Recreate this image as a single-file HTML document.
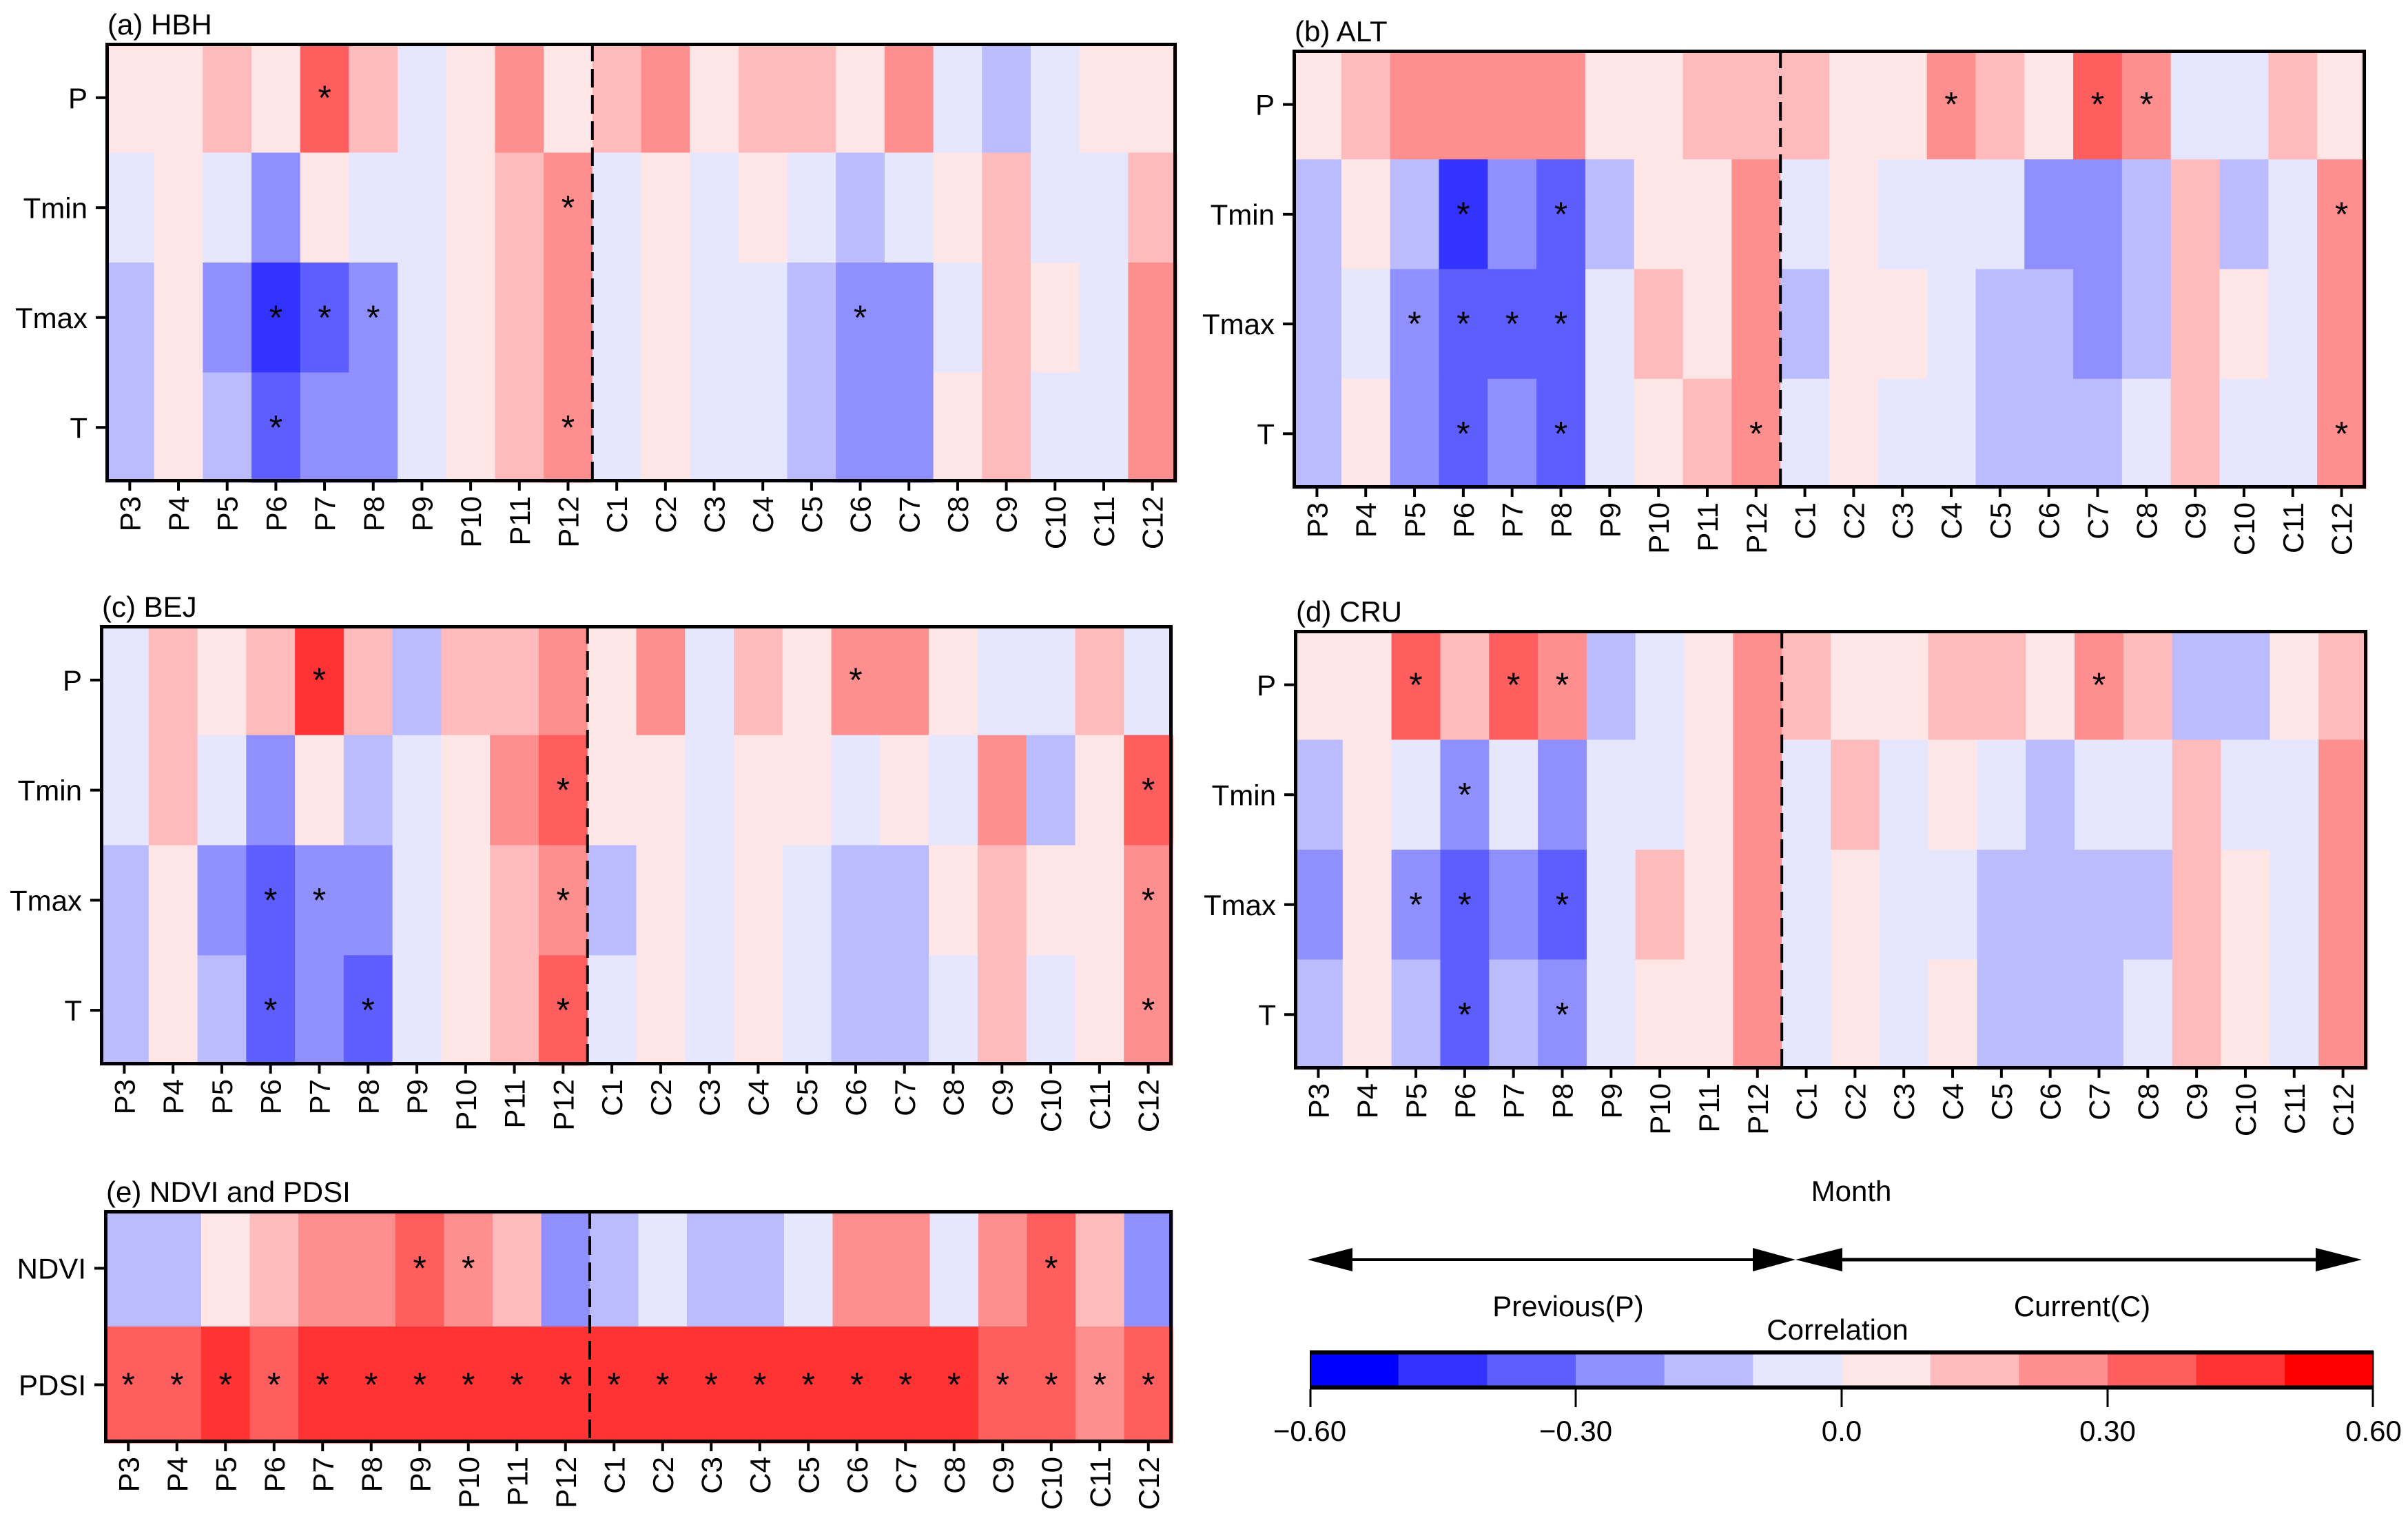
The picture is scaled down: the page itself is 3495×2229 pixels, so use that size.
<!DOCTYPE html>
<html><head><meta charset="utf-8"><style>
html,body{margin:0;padding:0;background:#fff;}
svg{display:block;}
text{font-family:"Liberation Sans",Arial,sans-serif;fill:#000;}
</style></head>
<body>
<svg id="fig" width="3495" height="2229" viewBox="0 0 3495 2229" xmlns="http://www.w3.org/2000/svg"></svg>
<script>
const months = ["P3","P4","P5","P6","P7","P8","P9","P10","P11","P12","C1","C2","C3","C4","C5","C6","C7","C8","C9","C10","C11","C12"];
const climRows = ["P","Tmin","Tmax","T"];
const eRows = ["NDVI","PDSI"];
const binColors = ["#0000ff","#3333ff","#5e5eff","#8f8fff","#bbbbff","#e6e6ff","#ffe6e6","#ffbbbb","#ff8f8f","#ff5e5e","#ff3333","#ff0000"];
const legendTicks = [-0.6,-0.3,0.0,0.3,0.6];
const legendTickLabels = ["\u22120.60","\u22120.30","0.0","0.30","0.60"];

// Panel (a) HBH
const hbhP    = [0.05,0.05,0.15,0.05,0.35,0.15,-0.05,0.05,0.25,0.05, 0.15,0.25,0.05,0.15,0.15,0.05,0.25,-0.05,-0.15,-0.05,0.05,0.05];
const hbhTmin = [-0.05,0.05,-0.05,-0.25,0.05,-0.05,-0.05,0.05,0.15,0.25, -0.05,0.05,-0.05,0.05,-0.05,-0.15,-0.05,0.05,0.15,-0.05,-0.05,0.15];
const hbhTmax = [-0.15,0.05,-0.25,-0.45,-0.35,-0.25,-0.05,0.05,0.15,0.25, -0.05,0.05,-0.05,-0.05,-0.15,-0.25,-0.25,-0.05,0.15,0.05,-0.05,0.25];
const hbhT    = [-0.15,0.05,-0.15,-0.35,-0.25,-0.25,-0.05,0.05,0.15,0.25, -0.05,0.05,-0.05,-0.05,-0.15,-0.25,-0.25,0.05,0.15,-0.05,-0.05,0.25];
const hbhSig  = [[4],[9],[3,4,5,15],[3,9]];

// Panel (b) ALT
const altP    = [0.05,0.15,0.25,0.25,0.25,0.25,0.05,0.05,0.15,0.15, 0.15,0.05,0.05,0.25,0.15,0.05,0.35,0.25,-0.05,-0.05,0.15,0.05];
const altTmin = [-0.15,0.05,-0.15,-0.45,-0.25,-0.35,-0.15,0.05,0.05,0.25, -0.05,0.05,-0.05,-0.05,-0.05,-0.25,-0.25,-0.15,0.15,-0.15,-0.05,0.25];
const altTmax = [-0.15,-0.05,-0.25,-0.35,-0.35,-0.35,-0.05,0.15,0.05,0.25, -0.15,0.05,0.05,-0.05,-0.15,-0.15,-0.25,-0.15,0.15,0.05,-0.05,0.25];
const altT    = [-0.15,0.05,-0.25,-0.35,-0.25,-0.35,-0.05,0.05,0.15,0.25, -0.05,0.05,-0.05,-0.05,-0.15,-0.15,-0.15,-0.05,0.15,-0.05,-0.05,0.25];
const altSig  = [[13,16,17],[3,5,21],[2,3,4,5],[3,5,9,21]];

// Panel (c) BEJ
const bejP    = [-0.05,0.15,0.05,0.15,0.45,0.15,-0.15,0.15,0.15,0.25, 0.05,0.25,-0.05,0.15,0.05,0.25,0.25,0.05,-0.05,-0.05,0.15,-0.05];
const bejTmin = [-0.05,0.15,-0.05,-0.25,0.05,-0.15,-0.05,0.05,0.25,0.35, 0.05,0.05,-0.05,0.05,0.05,-0.05,0.05,-0.05,0.25,-0.15,0.05,0.35];
const bejTmax = [-0.15,0.05,-0.25,-0.35,-0.25,-0.25,-0.05,0.05,0.15,0.25, -0.15,0.05,-0.05,0.05,-0.05,-0.15,-0.15,0.05,0.15,0.05,0.05,0.25];
const bejT    = [-0.15,0.05,-0.15,-0.35,-0.25,-0.35,-0.05,0.05,0.15,0.35, -0.05,0.05,-0.05,0.05,-0.05,-0.15,-0.15,-0.05,0.15,-0.05,0.05,0.25];
const bejSig  = [[4,15],[9,21],[3,4,9,21],[3,5,9,21]];

// Panel (d) CRU
const cruP    = [0.05,0.05,0.35,0.15,0.35,0.25,-0.15,-0.05,0.05,0.25, 0.15,0.05,0.05,0.15,0.15,0.05,0.25,0.15,-0.15,-0.15,0.05,0.15];
const cruTmin = [-0.15,0.05,-0.05,-0.25,-0.05,-0.25,-0.05,-0.05,0.05,0.25, -0.05,0.15,-0.05,0.05,-0.05,-0.15,-0.05,-0.05,0.15,-0.05,-0.05,0.25];
const cruTmax = [-0.25,0.05,-0.25,-0.35,-0.25,-0.35,-0.05,0.15,0.05,0.25, -0.05,0.05,-0.05,-0.05,-0.15,-0.15,-0.15,-0.15,0.15,0.05,-0.05,0.25];
const cruT    = [-0.15,0.05,-0.15,-0.35,-0.15,-0.25,-0.05,0.05,0.05,0.25, -0.05,0.05,-0.05,0.05,-0.15,-0.15,-0.15,-0.05,0.15,0.05,-0.05,0.25];
const cruSig  = [[2,4,5,16],[3],[2,3,5],[3,5]];

// Panel (e) NDVI and PDSI
const ndvi    = [-0.15,-0.15,0.05,0.15,0.25,0.25,0.35,0.25,0.15,-0.25, -0.15,-0.05,-0.15,-0.15,-0.05,0.25,0.25,-0.05,0.25,0.35,0.15,-0.25];
const pdsi    = [0.35,0.35,0.45,0.35,0.45,0.45,0.45,0.45,0.45,0.45, 0.45,0.45,0.45,0.45,0.45,0.45,0.45,0.45,0.35,0.35,0.25,0.35];
const eSig    = [[6,7,19],[0,1,2,3,4,5,6,7,8,9,10,11,12,13,14,15,16,17,18,19,20,21]];

const NS = "http://www.w3.org/2000/svg";
const svg = document.getElementById("fig");
function mk(tag, attrs, parent){
  const e = document.createElementNS(NS, tag);
  for (const k in attrs) e.setAttribute(k, attrs[k]);
  (parent||svg).appendChild(e);
  return e;
}
function colorFor(v){
  let i = Math.floor((v + 0.6) / 0.1 + 1e-9);
  if (i < 0) i = 0; if (i > 11) i = 11;
  return binColors[i];
}

function panel(key, title, box, rows, data, sig){
  const g = mk("g", {});
  
  
  const x0 = box[0], x1 = box[1], y0 = box[2], y1 = box[3];
  const nC = months.length, nR = rows.length;
  const xs = c => x0 + (x1 - x0) * c / nC;
  const ys = r => y0 + (y1 - y0) * r / nR;
  const cw = (x1 - x0) / nC, rh = (y1 - y0) / nR;
  for (let r = 0; r < nR; r++){
    for (let c = 0; c < nC; c++){
      const cell = mk("rect", {x: xs(c), y: ys(r), width: cw + 0.6, height: rh + 0.6, fill: colorFor(data[r][c])}, g);
      
      
    }
  }
  // dashed separator between P12 and C1
  const dl = mk("line", {x1: xs(10), x2: xs(10), y1: y0, y2: y1, stroke: "#000", "stroke-width": 4, "stroke-dasharray": "27 11"}, g);
  
  
  // significance stars
  for (let r = 0; r < nR; r++){
    sig[r].forEach(c => {
      const s = mk("text", {x: xs(c) + cw/2, y: ys(r) + rh/2 + 17, "font-size": 50, "text-anchor": "middle"}, g);
      s.textContent = "*";
      
      
    });
  }
  // frame
  const fr = mk("rect", {x: x0 + 2.5, y: y0 + 2.5, width: x1 - x0 - 5, height: y1 - y0 - 5, fill: "none", stroke: "#000", "stroke-width": 5}, g);
  
  
  // y ticks and labels
  for (let r = 0; r < nR; r++){
    const cy = ys(r) + rh/2;
    mk("line", {x1: x0 - 14, x2: x0, y1: cy, y2: cy, stroke: "#000", "stroke-width": 4}, g);
    const t = mk("text", {x: x0 - 26, y: cy + 15, "font-size": 42, "text-anchor": "end"}, g);
    t.textContent = rows[r];
    
    
  }
  // x ticks and labels
  for (let c = 0; c < nC; c++){
    const cx = xs(c) + cw/2;
    mk("line", {x1: cx, x2: cx, y1: y1, y2: y1 + 12, stroke: "#000", "stroke-width": 4}, g);
    const t = mk("text", {x: 0, y: 0, "font-size": 42, "text-anchor": "end", transform: `translate(${cx + 15},${y1 + 20}) rotate(-90)`}, g);
    t.textContent = months[c];
    
    
  }
  const tt = mk("text", {x: x0 + 3, y: y0 - 12, "font-size": 42}, g);
  tt.textContent = title;
  
  
}

panel("hbh", "(a) HBH", [153,1708,62,700], climRows, [hbhP,hbhTmin,hbhTmax,hbhT], hbhSig);
panel("alt", "(b) ALT", [1876,3434,72,709], climRows, [altP,altTmin,altTmax,altT], altSig);
panel("bej", "(c) BEJ", [145,1702,907,1546], climRows, [bejP,bejTmin,bejTmax,bejT], bejSig);
panel("cru", "(d) CRU", [1878,3436,914,1552], climRows, [cruP,cruTmin,cruTmax,cruT], cruSig);
panel("ndvi-pdsi", "(e) NDVI and PDSI", [151,1702,1756,2094], eRows, [ndvi,pdsi], eSig);

// Month arrows
(function(){
  const g = mk("g", {});
  
  
  const ay = 1828;
  const m = mk("text", {x: 2687, y: 1743, "font-size": 42, "text-anchor": "middle"}, g);
  m.textContent = "Month";
  
  
  mk("line", {x1: 1950, x2: 2560, y1: ay, y2: ay, stroke: "#000", "stroke-width": 4}, g);
  mk("line", {x1: 2660, x2: 3375, y1: ay, y2: ay, stroke: "#000", "stroke-width": 5}, g);
  const heads = [[1898,1963],[2606,2544],[2606,2674],[3428,3361]];
  heads.forEach(h => {
    const p = mk("polygon", {points: `${h[0]},${ay} ${h[1]},${ay-17} ${h[1]},${ay+17}`, fill: "#000"}, g);
    
    
  });
  const pv = mk("text", {x: 2276, y: 1910, "font-size": 42, "text-anchor": "middle"}, g);
  pv.textContent = "Previous(P)";
  
  
  const cu = mk("text", {x: 3022, y: 1910, "font-size": 42, "text-anchor": "middle"}, g);
  cu.textContent = "Current(C)";
  
  
})();

// Colorbar
(function(){
  const g = mk("g", {});
  
  
  const bx0 = 1901, bx1 = 3445, by0 = 1960, by1 = 2016;
  const sx = v => bx0 + (bx1 - bx0) * (v + 0.6) / 1.2;
  const ct = mk("text", {x: 2667, y: 1944, "font-size": 42, "text-anchor": "middle"}, g);
  ct.textContent = "Correlation";
  
  
  binColors.forEach((c, i) => {
    const v = -0.6 + i * 0.1;
    const r = mk("rect", {x: sx(v), y: by0, width: sx(v + 0.1) - sx(v) + 0.6, height: by1 - by0, fill: c}, g);
    
    
  });
  mk("line", {x1: bx0, x2: bx1, y1: by0 + 2.5, y2: by0 + 2.5, stroke: "#000", "stroke-width": 6}, g);
  mk("line", {x1: bx0, x2: bx1, y1: by1 - 2.5, y2: by1 - 2.5, stroke: "#000", "stroke-width": 6}, g);
  mk("line", {x1: bx0 + 1, x2: bx0 + 1, y1: by0, y2: by1, stroke: "#000", "stroke-width": 2}, g);
  mk("line", {x1: bx1 - 1, x2: bx1 - 1, y1: by0, y2: by1, stroke: "#000", "stroke-width": 2}, g);
  legendTicks.forEach((v, i) => {
    const x = Math.min(Math.max(sx(v), bx0 + 1), bx1 - 1);
    mk("line", {x1: x, x2: x, y1: by1, y2: 2042, stroke: "#000", "stroke-width": 3}, g);
    const t = mk("text", {x: sx(v), y: 2091, "font-size": 42, "text-anchor": "middle"}, g);
    t.textContent = legendTickLabels[i];
    
    
  });
})();
</script>
</body></html>
